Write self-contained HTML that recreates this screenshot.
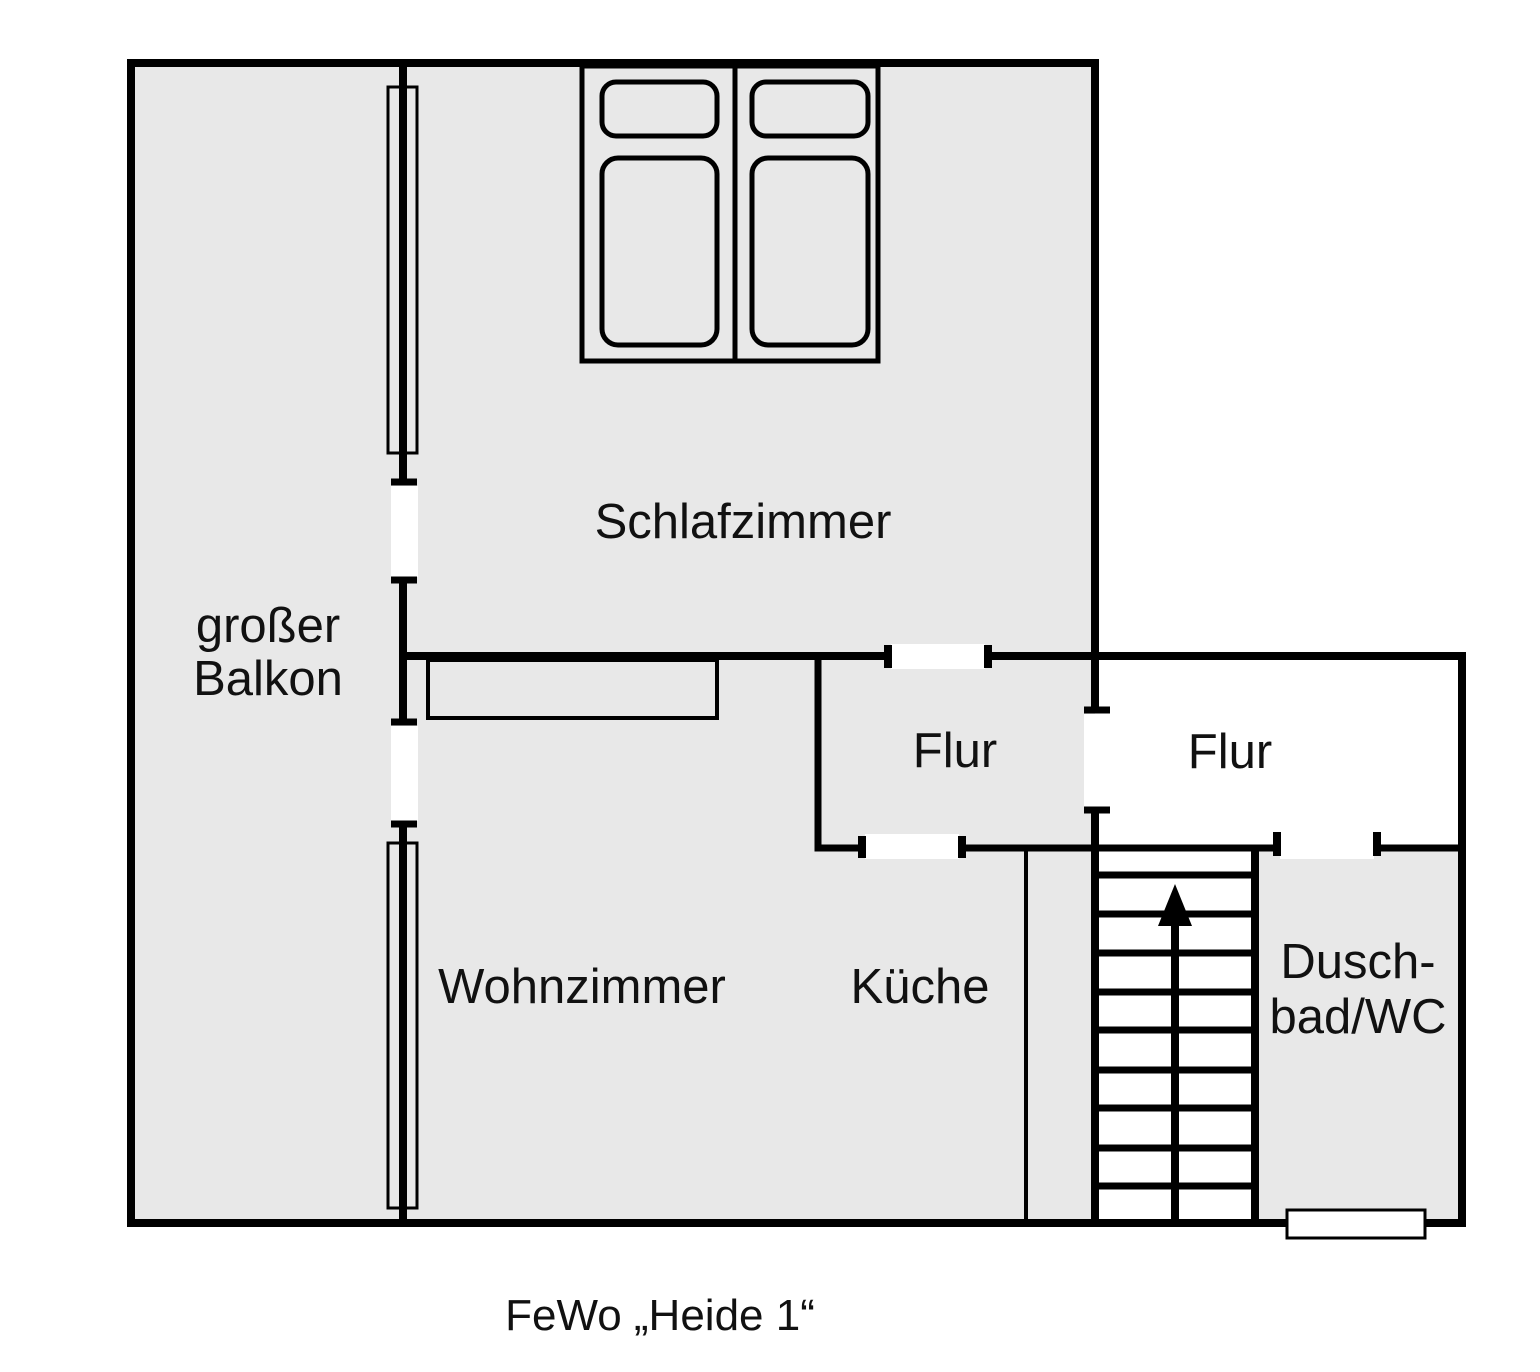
<!DOCTYPE html>
<html><head><meta charset="utf-8"><style>body{margin:0;background:#fff}svg{display:block}text{font-family:"Liberation Sans",Arial,sans-serif;fill:#111}</style></head><body>
<svg width="1540" height="1372" viewBox="0 0 1540 1372" xmlns="http://www.w3.org/2000/svg">
<rect width="1540" height="1372" fill="#fff"/>
<rect x="131" y="63" width="964" height="1160" fill="#e8e8e8"/>
<rect x="1095" y="848" width="363" height="375" fill="#e8e8e8"/>
<rect x="1095" y="656" width="363" height="192" fill="#fff"/>
<rect x="1095" y="848" width="160" height="375" fill="#fff"/>
<!-- door openings white -->
<g fill="#fff">
<rect x="391" y="486" width="27" height="91"/>
<rect x="391" y="726" width="27" height="95"/>
<rect x="891" y="644" width="94" height="25"/>
<rect x="865" y="834" width="94" height="25"/>
<rect x="1280" y="834" width="94" height="25"/>
<rect x="1084" y="714" width="16" height="93"/>
</g>
<g stroke="#000" fill="none">
<path d="M131 1223 V63 H1095 V656" stroke-width="8"/>
<path d="M127 1223 H1462 V656 H988" stroke-width="8"/>
<path d="M888 656 H403" stroke-width="8"/>
<path d="M403 63 V482 M403 580 V722 M403 824 V1223" stroke-width="8"/>
<path d="M391 482 H417 M391 580 H417 M391 722 H417 M391 824 H417" stroke-width="7"/>
<rect x="388" y="87" width="29" height="366" stroke-width="3"/>
<rect x="388" y="843" width="29" height="365" stroke-width="3"/>
<rect x="428" y="660" width="289" height="58" stroke-width="4"/>
<path d="M818 656 V848 H862" stroke-width="7"/>
<path d="M962 848 H1277 M1377 848 H1458" stroke-width="7"/>
<path d="M888 645 V668 M988 645 V668 M862 836 V858 M962 836 V858 M1277 832 V856 M1377 832 V856" stroke-width="8"/>
<path d="M1095 656 V710 M1095 810 V1223" stroke-width="8"/>
<path d="M1084 710 H1110 M1084 810 H1110" stroke-width="7"/>
<path d="M1026 850 V1223" stroke-width="4"/>
<path d="M1255 848 V1223" stroke-width="8"/>
<path d="M1097 875 H1253 M1097 914 H1253 M1097 953 H1253 M1097 992 H1253 M1097 1030 H1253 M1097 1070 H1253 M1097 1108 H1253 M1097 1148 H1253 M1097 1186 H1253" stroke-width="7"/>
<path d="M1175 925 V1223" stroke-width="8"/>
<rect x="1287" y="1210" width="138" height="28" fill="#fff" stroke-width="3"/>
<rect x="582" y="66" width="296" height="295" stroke-width="5"/>
<path d="M735 66 V361" stroke-width="5"/>
<rect x="602" y="82" width="115" height="54" rx="14" stroke-width="5"/>
<rect x="752" y="82" width="116" height="54" rx="14" stroke-width="5"/>
<rect x="602" y="158" width="115" height="187" rx="16" stroke-width="5"/>
<rect x="752" y="158" width="116" height="187" rx="16" stroke-width="5"/>
</g>
<polygon points="1175,884 1158,926 1192,926" fill="#000"/>
<g font-size="49" text-anchor="middle">
<text x="743" y="538">Schlafzimmer</text>
<text x="268" y="642">großer</text>
<text x="268" y="695">Balkon</text>
<text x="955" y="767">Flur</text>
<text x="1230" y="768">Flur</text>
<text x="582" y="1003">Wohnzimmer</text>
<text x="920" y="1003">Küche</text>
<text x="1358" y="978">Dusch-</text>
<text x="1358" y="1033">bad/WC</text>
</g>
<text x="660" y="1330" font-size="44" text-anchor="middle">FeWo „Heide 1“</text>
</svg>
</body></html>
